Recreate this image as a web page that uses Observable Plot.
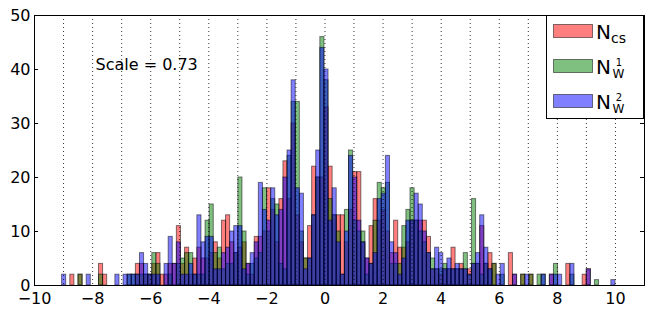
<!DOCTYPE html>
<html><head><meta charset="utf-8">
<script src="https://cdn.jsdelivr.net/npm/d3@7"></script>
<script src="https://cdn.jsdelivr.net/npm/@observablehq/plot@0.6"></script>
<style>html,body{margin:0;padding:0;background:#fff;}</style>
</head><body><div id="chart"></div>
<script>
// Histogram bins (shared by all three series)
const binLo = -9.05, binHi = 10.0, binCount = 135;

// Counts per bin
const countsCs = [
  0,0,2,0,2,0,0,0,0,4,
  2,0,0,0,0,0,0,0,4,4,
  2,2,4,6,2,2,4,4,11,4,
  7,2,5,7,5,5,6,8,5,12,
  13,8,6,7,8,4,2,9,9,10,
  18,14,8,16,23,16,30,13,8,5,
  11,22,20,20,33,22,13,13,13,8,
  14,21,21,8,5,11,16,12,14,10,
  6,12,7,7,8,12,12,12,12,9,
  3,3,2,3,3,7,3,4,3,3,
  4,4,11,4,6,4,0,0,0,6,
  2,0,2,0,2,0,0,0,0,2,
  0,0,0,4,0,0,0,2,3,0,
  0,0,0,0,0
];
const countsW1 = [
  0,0,0,0,2,0,0,0,0,2,
  0,0,0,0,0,0,2,2,2,2,
  2,2,6,4,0,0,2,0,4,5,
  6,6,2,2,2,12,15,6,7,3,
  4,4,6,20,10,2,4,5,6,18,
  10,16,15,4,3,24,34,34,10,5,
  5,13,20,46,38,16,13,10,2,14,
  25,12,10,10,2,4,12,19,18,19,
  4,4,4,11,14,18,12,10,8,6,
  5,3,3,4,3,3,3,3,6,2,
  16,4,2,4,3,4,0,2,0,0,
  0,0,2,0,2,0,2,2,0,0,
  4,0,0,0,2,0,0,0,0,0,
  1,0,0,0,0
];
const countsW2 = [
  2,0,0,0,0,0,2,0,0,0,
  0,0,0,2,0,2,2,2,2,6,
  4,2,2,2,0,4,9,4,8,2,
  2,4,2,13,8,9,9,3,3,6,
  7,10,11,11,3,4,6,8,19,14,
  12,18,13,14,20,25,38,18,17,3,
  5,13,25,44,40,12,18,8,2,10,
  24,20,12,8,5,4,6,16,17,24,
  8,6,2,5,12,12,17,15,10,6,
  3,7,6,3,5,3,4,3,3,2,
  4,6,13,7,3,0,2,4,0,0,
  2,0,0,2,0,0,0,2,0,2,
  2,2,0,0,4,0,0,0,3,0,
  0,0,0,0,1
];

const seriesColors = ["#ff0000", "#008000", "#0000ff"];
const seriesLabels = [
  {main: "N", sub: "cs", sup: ""},
  {main: "N", sub: "W", sup: "1"},
  {main: "N", sub: "W", sup: "2"}
];
const xTicks = [-10, -8, -6, -4, -2, 0, 2, 4, 6, 8, 10];
const yTicks = [0, 10, 20, 30, 40, 50];
const gridX = [-9, -8, -7, -6, -5, -4, -3, -2, -1, 0, 1, 2, 3, 4, 5, 6, 7, 8, 9, 10];
const annotation = "Scale = 0.73";

(function () {
  const binW = (binHi - binLo) / binCount;
  function toRows(counts) {
    return counts.map((c, i) => ({x1: binLo + i * binW, x2: binLo + (i + 1) * binW, count: c}))
                 .filter(d => d.count > 0);
  }
  const seriesRows = [countsCs, countsW1, countsW2].map(toRows);
  const fmt = d => (d < 0 ? "\u2212" + Math.abs(d) : String(d));

  const chart = Plot.plot({
    width: 654, height: 313,
    marginLeft: 34, marginRight: 10, marginTop: 15, marginBottom: 28,
    x: {domain: [-10, 11], label: null},
    y: {domain: [0, 50], label: null},
    style: {fontFamily: "DejaVu Sans", fontSize: "16px", color: "black", background: "white"},
    marks: [
      ...seriesRows.map((rows, i) => Plot.rect(rows, {
        x1: "x1", x2: "x2", y1: 0, y2: "count",
        fill: seriesColors[i], fillOpacity: 0.5,
        stroke: "black", strokeOpacity: 0.5, strokeWidth: 1
      })),
      Plot.ruleX(gridX, {stroke: "black", strokeWidth: 0.8, strokeDasharray: "1,3"}),
      Plot.frame({stroke: "black", strokeWidth: 1}),
      Plot.axisX(xTicks, {tickSize: 0, tickPadding: 7, tickFormat: fmt, fontSize: 16, label: null}),
      Plot.axisY(yTicks, {tickSize: 0, tickPadding: 4, tickFormat: fmt, fontSize: 16, label: null}),
      Plot.text([annotation], {frameAnchor: "top-left", dx: 61, dy: 49, textAnchor: "start", lineAnchor: "middle", fontSize: 16, fill: "black"})
    ]
  });
  document.getElementById("chart").appendChild(chart);

  // inward y ticks on left and right, via the plot's scales
  const svg = d3.select(chart);
  const xs = chart.scale("x"), ys = chart.scale("y");
  const leftX = xs.apply(-10), rightX = xs.apply(11), topY = ys.apply(50);
  const tg = svg.append("g").attr("stroke", "black").attr("stroke-width", 1);
  yTicks.forEach(v => {
    const y = Math.round(ys.apply(v)) + 0.5;
    tg.append("line").attr("x1", leftX).attr("x2", leftX + 4).attr("y1", y).attr("y2", y);
    tg.append("line").attr("x1", rightX).attr("x2", rightX - 4).attr("y1", y).attr("y2", y);
  });

  // legend inside the axes (top-right)
  const lg = svg.append("g").attr("font-family", "DejaVu Sans");
  const boxX = 546, boxW = rightX - boxX, boxH = 103;
  lg.append("rect").attr("x", boxX + 0.5).attr("y", topY + 0.5).attr("width", boxW - 1).attr("height", boxH)
    .attr("fill", "white").attr("stroke", "black").attr("stroke-width", 1);
  seriesLabels.forEach((lab, i) => {
    const cy = topY + 16 + i * 35;
    lg.append("rect").attr("x", 553.5).attr("y", cy - 6.5).attr("width", 39).attr("height", 13)
      .attr("fill", seriesColors[i]).attr("fill-opacity", 0.5)
      .attr("stroke", "black").attr("stroke-opacity", 0.5);
    const base = cy + 8;
    const t = lg.append("text").attr("x", 603.5).attr("y", base).attr("font-size", 20).attr("fill", "black");
    t.append("tspan").text(lab.main);
    if (lab.sup) {
      t.append("tspan").attr("x", 618.5).attr("y", base + 4).attr("font-size", 12).text(lab.sub);
      t.append("tspan").attr("x", 619).attr("y", base - 8.5).attr("font-size", 10).text(lab.sup);
    } else {
      t.append("tspan").attr("x", 618.5).attr("y", base + 4).attr("font-size", 14).text(lab.sub);
    }
  });
})();
</script>
</body></html>
